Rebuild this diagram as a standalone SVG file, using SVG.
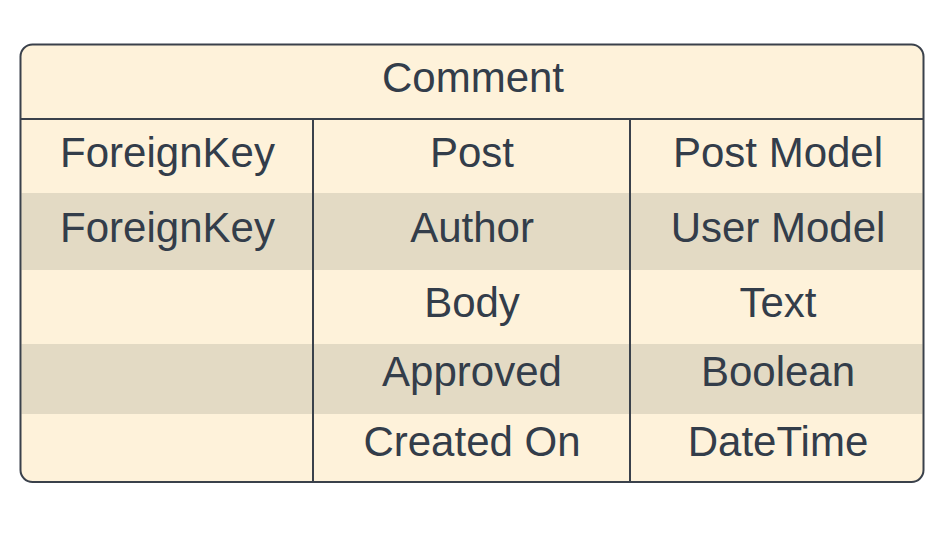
<svg xmlns="http://www.w3.org/2000/svg" width="950" height="550" viewBox="0 0 950 550">
  <style>
    .band { fill: #e3dac4; }
    .rule { stroke: #3a414b; stroke-width: 2; fill: none; }
    .t { font-family: "Liberation Sans", Arial, sans-serif; font-size: 42px; fill: #333d4a; text-anchor: middle; }
  </style>
  <rect width="950" height="550" fill="#ffffff"/>
  <g id="comment-table">
    <rect x="20.5" y="44.5" width="903" height="437.5" rx="12" ry="12" fill="#fef2da"/>
    <!-- alternating row bands -->
    <rect class="band" x="21.5" y="193" width="901" height="77"/>
    <rect class="band" x="21.5" y="344" width="901" height="70"/>
    <!-- grid lines -->
    <line class="rule" x1="20.5" y1="119" x2="923.5" y2="119"/>
    <line class="rule" x1="313" y1="119" x2="313" y2="482"/>
    <line class="rule" x1="630" y1="119" x2="630" y2="482"/>
    <rect class="rule" x="20.5" y="44.5" width="903" height="437.5" rx="12" ry="12"/>
  </g>
  <g id="header">
    <text class="t" x="473" y="92">Comment</text>
  </g>
  <g id="row-post">
    <text class="t" x="167.5" y="167">ForeignKey</text>
    <text class="t" x="472" y="167">Post</text>
    <text class="t" x="778" y="167">Post Model</text>
  </g>
  <g id="row-author">
    <text class="t" x="167.5" y="242">ForeignKey</text>
    <text class="t" x="472" y="242">Author</text>
    <text class="t" x="778" y="242">User Model</text>
  </g>
  <g id="row-body">
    <text class="t" x="472" y="317">Body</text>
    <text class="t" x="778" y="317">Text</text>
  </g>
  <g id="row-approved">
    <text class="t" x="472" y="386">Approved</text>
    <text class="t" x="778" y="386">Boolean</text>
  </g>
  <g id="row-created">
    <text class="t" x="472" y="456">Created On</text>
    <text class="t" x="778" y="456">DateTime</text>
  </g>
</svg>
